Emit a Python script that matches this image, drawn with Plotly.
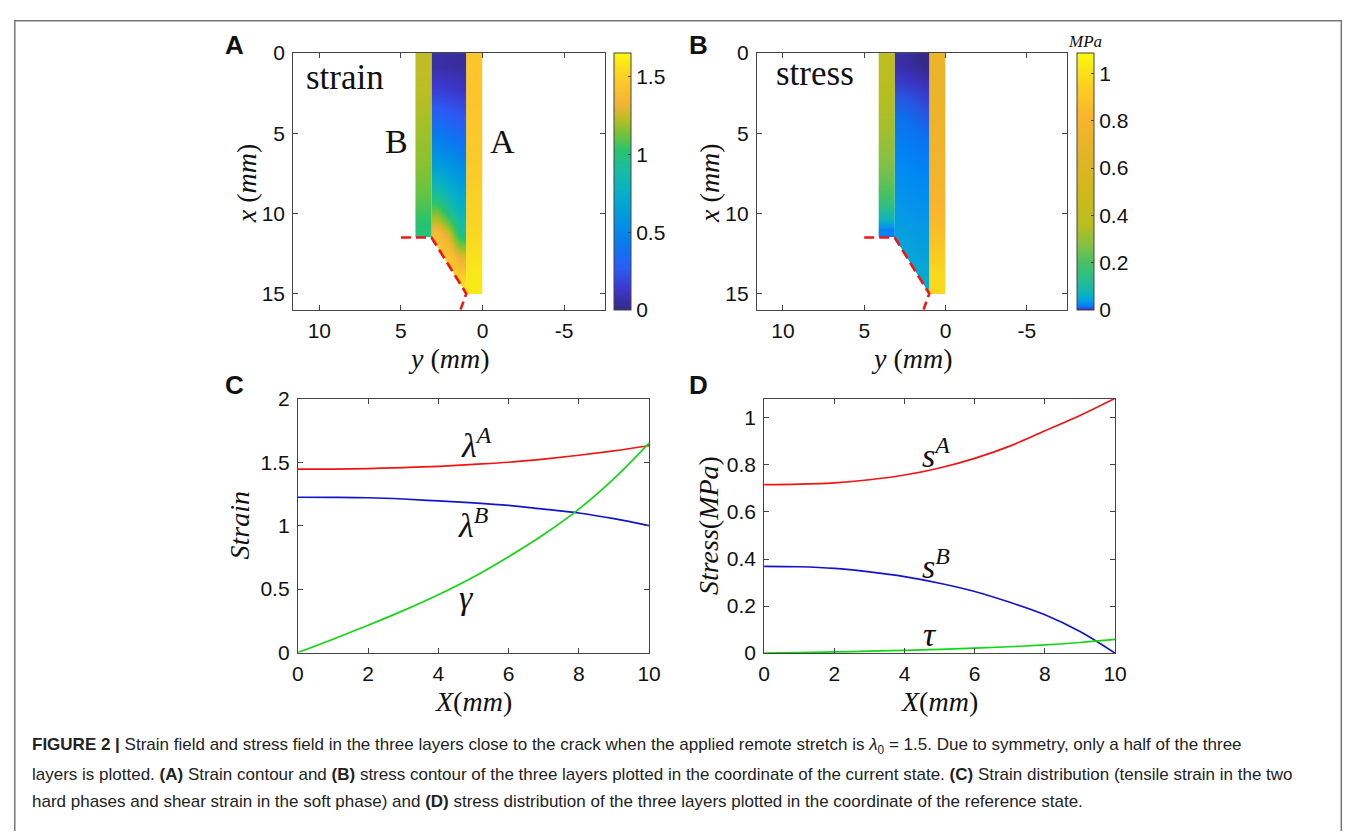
import plotly.graph_objects as go

# ---------------- Panel C / D : reference-state distributions ----------------
X_mm = [0, 1, 2, 3, 4, 5, 6, 7, 8, 9, 10]
lambda_A = [1.445, 1.446, 1.450, 1.458, 1.468, 1.483, 1.500, 1.525, 1.555, 1.590, 1.630]
lambda_B = [1.224, 1.223, 1.220, 1.210, 1.195, 1.180, 1.160, 1.130, 1.100, 1.055, 1.000]
gamma = [0.0, 0.105, 0.215, 0.330, 0.455, 0.595, 0.755, 0.930, 1.130, 1.370, 1.650]
s_A = [0.716, 0.718, 0.724, 0.737, 0.757, 0.787, 0.828, 0.880, 0.945, 1.010, 1.083]
s_B = [0.369, 0.367, 0.360, 0.345, 0.325, 0.297, 0.262, 0.216, 0.163, 0.092, 0.0]
tau = [0.0, 0.002, 0.005, 0.008, 0.012, 0.016, 0.021, 0.027, 0.035, 0.045, 0.058]

# ---------------- Panel A / B : current-state fields (mm) ----------------
layerA_y = [0.0, 1.0]                 # horizontal extent (cell edges)
layerSoft_y = [1.0, 1.7, 2.4, 3.13]
layerB_y = [3.13, 4.11]
layerA_x = [0, 3, 6, 9, 12, 15]       # vertical cell edges
layerB_x = [0, 2, 4, 6, 8, 9.5, 10.5, 11.5]
soft_x = [0, 1.5, 3, 4.5, 6, 7.5, 9, 10.5, 12, 13.5, 15]
crack_y = [5.0, 3.13, 1.0, 1.35]
crack_x = [11.5, 11.5, 15.0, 16.0]

strain_A = [1.45, 1.46, 1.48, 1.52, 1.59]
strain_B = [1.24, 1.22, 1.19, 1.16, 1.11, 1.05, 1.00]
strain_soft = [
    [0.04, 0.05, 0.06],
    [0.12, 0.14, 0.16],
    [0.24, 0.27, 0.30],
    [0.36, 0.40, 0.44],
    [0.50, 0.55, 0.60],
    [0.64, 0.72, 0.82],
    [0.78, 0.92, 1.10],
    [0.95, 1.25, 1.38],
    [1.30, 1.45, 1.52],
    [1.55, 1.60, 1.62],
]
stress_A = [0.72, 0.735, 0.77, 0.84, 0.97]
stress_B = [0.37, 0.35, 0.32, 0.27, 0.20, 0.10, 0.02]
stress_soft = [
    [0.000, 0.001, 0.002],
    [0.004, 0.005, 0.006],
    [0.008, 0.010, 0.012],
    [0.013, 0.015, 0.017],
    [0.018, 0.020, 0.023],
    [0.024, 0.026, 0.029],
    [0.030, 0.032, 0.035],
    [0.037, 0.040, 0.043],
    [0.045, 0.048, 0.050],
    [0.053, 0.055, 0.057],
]

cs_A = [
    [0.00, 'rgb(53,42,135)'], [0.08, 'rgb(60,55,205)'], [0.16, 'rgb(45,90,245)'],
    [0.25, 'rgb(10,120,240)'], [0.35, 'rgb(0,150,225)'], [0.45, 'rgb(5,175,200)'],
    [0.55, 'rgb(25,190,160)'], [0.62, 'rgb(40,195,110)'], [0.68, 'rgb(110,195,60)'],
    [0.74, 'rgb(185,190,35)'], [0.80, 'rgb(240,180,55)'], [0.87, 'rgb(252,195,45)'],
    [0.94, 'rgb(250,220,30)'], [1.00, 'rgb(249,251,14)'],
]
cs_B = [
    [0.000, 'rgb(53,42,135)'], [0.003, 'rgb(60,50,190)'], [0.007, 'rgb(40,85,225)'],
    [0.012, 'rgb(10,115,240)'], [0.020, 'rgb(0,135,245)'], [0.032, 'rgb(5,152,232)'],
    [0.048, 'rgb(5,170,210)'], [0.070, 'rgb(20,180,180)'], [0.120, 'rgb(40,190,140)'],
    [0.180, 'rgb(70,192,100)'], [0.250, 'rgb(130,192,70)'], [0.330, 'rgb(185,190,30)'],
    [0.450, 'rgb(205,185,25)'], [0.600, 'rgb(225,180,40)'], [0.750, 'rgb(250,180,45)'],
    [0.880, 'rgb(250,210,30)'], [1.000, 'rgb(250,250,15)'],
]

# page body has an 8px margin: build a slightly smaller figure and offset coordinates
OX, OY = 8, 8
W, H = 1346, 823
def px(x):
    return (x - OX) / W
def py(y):
    return 1 - (y - OY) / H

fig = go.Figure()

def add_field(xa, ya, cax, fa, fb, fs):
    fig.add_trace(go.Heatmap(x=layerSoft_y, y=soft_x, z=fs, zsmooth='best',
                             coloraxis=cax, xaxis=xa, yaxis=ya, hoverinfo='skip'))
    fig.add_trace(go.Heatmap(x=layerA_y, y=layerA_x, z=[[v] for v in fa], zsmooth='best',
                             coloraxis=cax, xaxis=xa, yaxis=ya, hoverinfo='skip'))
    fig.add_trace(go.Heatmap(x=layerB_y, y=layerB_x, z=[[v] for v in fb], zsmooth='best',
                             coloraxis=cax, xaxis=xa, yaxis=ya, hoverinfo='skip'))
    # white mask below the crack faces
    mx = [crack_y[1] + 0.1, crack_y[1], crack_y[2], crack_y[2], crack_y[1] + 0.1]
    my = [crack_x[1], crack_x[1], crack_x[2], crack_x[2] + 0.5, crack_x[2] + 0.5]
    fig.add_trace(go.Scatter(x=mx, y=my, fill='toself', fillcolor='white', mode='lines',
                             line=dict(width=0, color='white'), xaxis=xa, yaxis=ya,
                             showlegend=False, hoverinfo='skip'))
    fig.add_trace(go.Scatter(x=crack_y, y=crack_x, mode='lines',
                             line=dict(color='rgb(245,20,20)', width=2.6, dash='10px,5px'),
                             xaxis=xa, yaxis=ya, showlegend=False, hoverinfo='skip'))

add_field('x', 'y', 'coloraxis', strain_A, strain_B, strain_soft)
add_field('x2', 'y2', 'coloraxis2', stress_A, stress_B, stress_soft)

line_w = 1.7
for xa, ya, ser, col in [
    ('x3', 'y3', lambda_A, 'rgb(240,20,20)'),
    ('x3', 'y3', lambda_B, 'rgb(20,20,205)'),
    ('x3', 'y3', gamma, 'rgb(20,215,20)'),
    ('x4', 'y4', s_A, 'rgb(240,20,20)'),
    ('x4', 'y4', s_B, 'rgb(20,20,205)'),
    ('x4', 'y4', tau, 'rgb(20,215,20)'),
]:
    fig.add_trace(go.Scatter(x=X_mm, y=ser, mode='lines', line=dict(color=col, width=line_w, shape='spline'),
                             xaxis=xa, yaxis=ya, showlegend=False, cliponaxis=False))

tickfont = dict(family='Liberation Sans, Arial, sans-serif', size=21, color='#111')
axcommon = dict(showline=True, linecolor='#444', linewidth=1, mirror='ticks', ticks='inside',
                ticklen=5, tickcolor='#444', showgrid=False, zeroline=False, tickfont=tickfont)
xcommon = dict(axcommon, ticklabelstandoff=2)
ycommon = dict(axcommon, ticklabelstandoff=3)

dA = dict(x=[px(291), px(607)], y=[py(306), py(42)])
dB = dict(x=[px(761), px(1075.7)], y=[py(306), py(42)])
dC = dict(x=[px(295.7), px(651.7)], y=[py(658.7), py(397.7)])
dD = dict(x=[px(768.3), px(1124)], y=[py(659.3), py(397.7)])

yA_ticks = [10, 5, 0, -5]
yA_text = ['10', '5', '0', '-5']

cb_common = dict(xanchor='left', y=py(174), yanchor='middle', len=264 / H, lenmode='fraction',
                 thickness=17, xpad=0, ypad=0, outlinewidth=1, outlinecolor='#444',
                 ticks='inside', ticklen=3, tickcolor='#444', tickfont=tickfont)

fig.update_layout(
    width=W, height=H, margin=dict(l=0, r=0, t=0, b=0),
    paper_bgcolor='white', plot_bgcolor='white', showlegend=False,
    xaxis=dict(domain=dA['x'], anchor='y', range=[11.6, -7.5], tickvals=yA_ticks, ticktext=yA_text, **xcommon),
    yaxis=dict(domain=dA['y'], anchor='x', range=[16.0, 0], tickvals=[0, 5, 10, 15], **ycommon),
    xaxis2=dict(domain=dB['x'], anchor='y2', range=[11.6, -7.5], tickvals=yA_ticks, ticktext=yA_text, **xcommon),
    yaxis2=dict(domain=dB['y'], anchor='x2', range=[16.0, 0], tickvals=[0, 5, 10, 15], **ycommon),
    xaxis3=dict(domain=dC['x'], anchor='y3', range=[0, 10], tickvals=[0, 2, 4, 6, 8, 10], **xcommon),
    yaxis3=dict(domain=dC['y'], anchor='x3', range=[0, 2], tickvals=[0, 0.5, 1, 1.5, 2],
                ticktext=['0', '0.5', '1', '1.5', '2'], **ycommon),
    xaxis4=dict(domain=dD['x'], anchor='y4', range=[0, 10], tickvals=[0, 2, 4, 6, 8, 10], **xcommon),
    yaxis4=dict(domain=dD['y'], anchor='x4', range=[0, 1.081], tickvals=[0, 0.2, 0.4, 0.6, 0.8, 1],
                ticktext=['0', '0.2', '0.4', '0.6', '0.8', '1'], **ycommon),
    coloraxis=dict(colorscale=cs_A, cmin=0, cmax=1.655,
                   colorbar=dict(x=px(615.7), tickvals=[0, 0.5, 1, 1.5],
                                 ticktext=['0', '0.5', '1', '1.5'], **cb_common)),
    coloraxis2=dict(colorscale=cs_B, cmin=0, cmax=1.088,
                    colorbar=dict(x=px(1085), tickvals=[0, 0.2, 0.4, 0.6, 0.8, 1],
                                  ticktext=['0', '0.2', '0.4', '0.6', '0.8', '1'], **cb_common)),
)

serif = 'Liberation Serif, DejaVu Serif, serif'
ann = []
def A(x, y, text, size, family=serif, xref='paper', yref='paper', angle=0, xanchor='center', color='#111'):
    ann.append(dict(x=x, y=y, xref=xref, yref=yref, text=text, showarrow=False, textangle=angle,
                    font=dict(family=family, size=size, color=color), xanchor=xanchor, yanchor='middle'))

bold = 'Liberation Sans, Arial, sans-serif'
A(px(231), py(34), '<b>A</b>', 26, bold)
A(px(702), py(34), '<b>B</b>', 26, bold)
A(px(231), py(383), '<b>C</b>', 26, bold)
A(px(702), py(383), '<b>D</b>', 26, bold)

# axis titles
A(px(449), py(356), '<i>y</i> (<i>mm</i>)', 28)
A(px(243), py(176), '<i>x</i> (<i>mm</i>)', 28, angle=-90)
A(px(918), py(356), '<i>y</i> (<i>mm</i>)', 28)
A(px(713), py(176), '<i>x</i> (<i>mm</i>)', 28, angle=-90)
A(px(473.7), py(709), '<i>X</i>(<i>mm</i>)', 28)
A(px(237), py(528), '<i>Strain</i>', 28, angle=-90)
A(px(946), py(709), '<i>X</i>(<i>mm</i>)', 28)
A(px(712), py(528), '<i>Stress</i>(<i>MPa</i>)', 28, angle=-90)
A(px(1094), py(30), '<i>MPa</i>', 17)

# in-plot labels
A(8.4, 1.5, 'strain', 35, xref='x', yref='y')
A(5.26, 5.54, 'B', 34, xref='x', yref='y')
A(-1.23, 5.54, 'A', 34, xref='x', yref='y')
A(8.0, 1.3, 'stress', 35, xref='x2', yref='y2')

A(5.1, 1.65, '<i>λ<sup>A</sup></i>', 34, xref='x3', yref='y3')
A(5.0, 1.02, '<i>λ<sup>B</sup></i>', 34, xref='x3', yref='y3')
A(4.8, 0.43, '<i>γ</i>', 34, xref='x3', yref='y3')
A(4.9, 0.85, '<i>s<sup>A</sup></i>', 34, xref='x4', yref='y4')
A(4.9, 0.38, '<i>s<sup>B</sup></i>', 34, xref='x4', yref='y4')
A(4.73, 0.08, '<i>τ</i>', 34, xref='x4', yref='y4')

cap = 'Liberation Sans, Arial, sans-serif'
A(px(24), py(755), '<b>FIGURE 2 |</b> Strain field and stress field in the three layers close to the crack when the applied remote stretch is <i>λ</i><sub>0</sub> = 1.5. Due to symmetry, only a half of the three', 17, cap, xanchor='left', color='#222')
A(px(24), py(784), 'layers is plotted. <b>(A)</b> Strain contour and <b>(B)</b> stress contour of the three layers plotted in the coordinate of the current state. <b>(C)</b> Strain distribution (tensile strain in the two', 17, cap, xanchor='left', color='#222')
A(px(24), py(812), 'hard phases and shear strain in the soft phase) and <b>(D)</b> stress distribution of the three layers plotted in the coordinate of the reference state.', 17, cap, xanchor='left', color='#222')

fig.update_layout(annotations=ann)
fig.add_shape(type='rect', xref='paper', yref='paper', x0=px(8.8), x1=px(1353.3), y0=py(860), y1=py(8.8),
              line=dict(color='#777', width=1.5), fillcolor='rgba(0,0,0,0)', layer='above')

fig.write_html('out.html')
